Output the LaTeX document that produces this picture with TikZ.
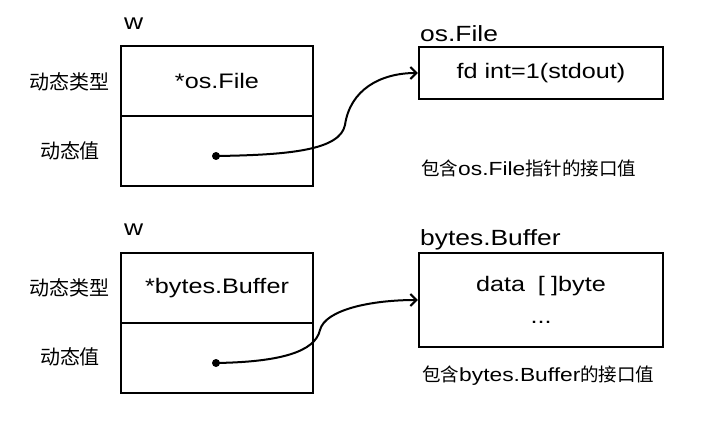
\documentclass[tikz,border=0pt]{standalone}
\usepackage{fontspec}
\setmainfont[FakeStretch=1.2]{Liberation Sans}
\newfontfamily\cjk{Noto Sans CJK SC}
\newcommand{\notecjk}[1]{{\cjk\fontsize{18.5}{20}\selectfont #1}}
\usetikzlibrary{arrows.meta}

\begin{document}
\begin{tikzpicture}[x=1pt, y=-1pt,
    cell/.style={draw, line width=2.4pt, minimum width=192pt, minimum height=70pt,
        inner sep=0pt, font=\fontsize{21}{24}\selectfont},
    obj/.style={draw, line width=2.4pt, minimum width=244pt, inner sep=0pt,
        align=center, font=\fontsize{21}{32}\selectfont},
    side/.style={font=\cjk\fontsize{20}{22}\selectfont},
    head/.style={anchor=base west, inner sep=0pt, font=\fontsize{22}{26}\selectfont},
    note/.style={anchor=west, inner sep=0pt, font=\fontsize{19}{20}\selectfont},
    ptr/.style={line width=2pt, -{Straight Barb[length=6pt, width=12pt]}},
    dot/.style={circle, fill, inner sep=0pt, minimum size=8pt}]
    \useasboundingbox (0,0) rectangle (716,428);

    % Interface value holding *os.File
    \node[head] (w1) at (124,30) {w};
    \node[cell] (type1) at (217,81) {*os.File};
    \node[cell] (val1) at (217,151) {};
    \node[side] (typelab1) at (70,82) {动态类型};
    \node[side] (vallab1) at (70,151) {动态值};
    \node[head] (filelab) at (420,42) {os.File};
    \node[obj, minimum height=52pt] (file) at (541,73) {fd int=1(stdout)};
    \node[note] (note1) at (421,168) {\notecjk{包含}os.File\notecjk{指针的接口值}};
    \node[dot] (p1) at (216,156) {};
    \draw[ptr] (p1.center) .. controls (290,155) and (340,150) .. (345,125)
        .. controls (350,90) and (380,73) .. (file.west);

    % Interface value holding *bytes.Buffer
    \node[head] (w2) at (124,235) {w};
    \node[cell] (type2) at (217,288) {*bytes.Buffer};
    \node[cell] (val2) at (217,358) {};
    \node[side] (typelab2) at (70,288) {动态类型};
    \node[side] (vallab2) at (70,357) {动态值};
    \node[head] (buflab) at (420,245) {bytes.Buffer};
    \node[obj, minimum height=94pt] (buf) at (541,300)
        {data\hspace{0.6em}[\hspace{0.3em}]byte\\...};
    \node[note] (note2) at (422,376) {\notecjk{包含}bytes.Buffer\notecjk{的接口值}};
    \node[dot] (p2) at (216,363) {};
    \draw[ptr] (p2.center) .. controls (280,362) and (315,352) .. (320,330)
        .. controls (325,310) and (370,300) .. (buf.west);
\end{tikzpicture}
\end{document}
